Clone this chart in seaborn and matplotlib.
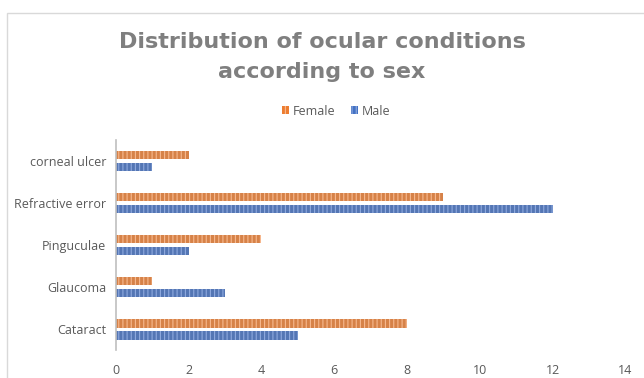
import matplotlib
matplotlib.use("Agg")
import matplotlib.pyplot as plt
from matplotlib.patches import Rectangle, Patch
import seaborn as sns
import pandas as pd

conditions = ["corneal ulcer", "Refractive error", "Pinguculae", "Glaucoma", "Cataract"]
female = [2, 9, 4, 1, 8]
male = [1, 12, 2, 3, 5]
x_ticks = [0, 2, 4, 6, 8, 10, 12, 14]

df = pd.DataFrame({
    "Condition": conditions * 2,
    "Count": female + male,
    "Sex": ["Female"] * len(conditions) + ["Male"] * len(conditions),
})

sns.set_theme(style="white")
plt.rcParams["font.family"] = ["Open Sans", "DejaVu Sans"]
plt.rcParams["hatch.linewidth"] = 0.8

orange = "#ED7D31"
blue = "#4472C4"
stripe = {"Female": "#F7B98F", "Male": "#8FAADF"}

fig = plt.figure(figsize=(6.44, 3.78), dpi=100)
ax = fig.add_axes([0.180, 0.073, 0.791, 0.557])

sns.barplot(data=df, y="Condition", x="Count", hue="Sex", order=conditions,
            hue_order=["Female", "Male"], palette=[orange, blue], orient="h",
            width=0.57, gap=0.3, legend=False, ax=ax)

# fine vertical stripes inside each bar
for container, sex in zip(ax.containers, ["Female", "Male"]):
    for bar in container:
        bar.set_hatch("||||")
        bar.set_edgecolor(stripe[sex])
        bar.set_linewidth(0)

ax.set_xlim(0, 14)
ax.set_xticks(x_ticks)
ax.set_xlabel("")
ax.set_ylabel("")
for s in ["top", "right", "bottom"]:
    ax.spines[s].set_visible(False)
ax.spines["left"].set_color("#BFBFBF")
ax.spines["left"].set_linewidth(1.2)
ax.tick_params(axis="both", length=0, colors="#595959", labelsize=9)
ax.tick_params(axis="y", pad=7)
ax.tick_params(axis="x", pad=10)

fig.text(0.5, 0.850, "Distribution of ocular conditions\naccording to sex",
         ha="center", va="center", fontsize=16, fontweight="bold",
         family="DejaVu Sans", color="#7F7F7F", linespacing=1.65)

handles = [Patch(facecolor=orange, edgecolor=stripe["Female"], hatch="||||", linewidth=0),
           Patch(facecolor=blue, edgecolor=stripe["Male"], hatch="||||", linewidth=0)]
fig.legend(handles, ["Female", "Male"], loc="center", bbox_to_anchor=(0.522, 0.706),
           ncol=2, frameon=False, fontsize=9, handlelength=0.6, handleheight=0.6,
           columnspacing=1.2, handletextpad=0.3, labelcolor="#595959")

# light chart-area frame
fig.patches.append(Rectangle((7 / 644, -0.1), 1.1, 1 - 13 / 378 + 0.1,
                             transform=fig.transFigure, fill=False,
                             edgecolor="#D9D9D9", linewidth=1))

fig.savefig("out.png", dpi=100)
